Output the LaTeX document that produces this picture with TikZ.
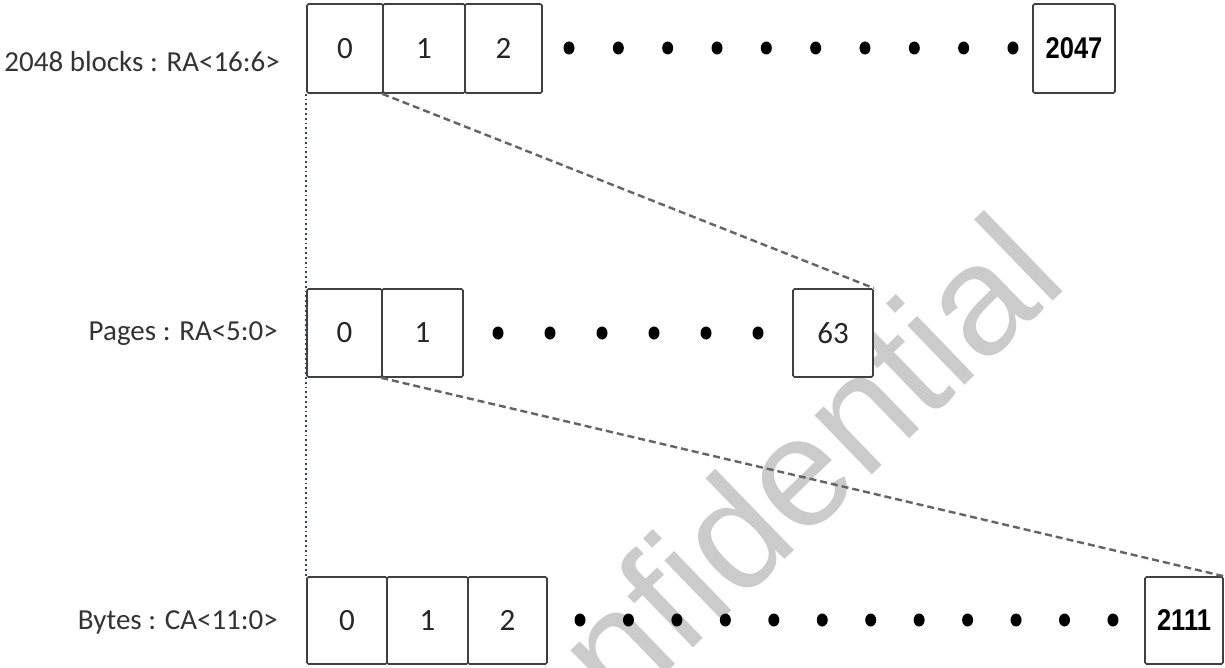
\documentclass[tikz,border=0pt]{standalone}
\usepackage{fontspec}
\setmainfont{Carlito}
\newfontfamily\nb[FakeStretch=0.85]{Liberation Sans}
\newfontfamily\wmfont{Liberation Sans}
\usetikzlibrary{calc}
\definecolor{boxline}{HTML}{404040}
\definecolor{labtext}{HTML}{333333}
\definecolor{dashcol}{HTML}{646464}
\definecolor{dotcol}{HTML}{34425E}
\definecolor{wmcol}{HTML}{CBCBCB}
\tikzset{
  cell/.style={draw=boxline, line width=1.6pt, rounded corners=1.5pt, fill=white, inner sep=0pt,
    font=\fontsize{31}{34}\selectfont, text=black!85},
  bigcell/.style={cell, font=\nb\bfseries\fontsize{30}{33}\selectfont, text=black},
  rowlabel/.style={anchor=east, inner sep=0pt, font=\fontsize{29}{33}\selectfont, text=labtext},
  bullet/.style={fill=black, draw=none},
  zoomline/.style={draw=dashcol, line width=2.4pt, dash pattern=on 7pt off 4pt},
  guide/.style={draw=dotcol, line width=1.8pt, dash pattern=on 1.8pt off 3pt}
}
\begin{document}
\begin{tikzpicture}[x=1pt, y=-1pt]
\useasboundingbox (0,0) rectangle (1225,668);
% watermark
\node[rotate=44, text=wmcol, font=\wmfont\fontsize{156}{160}\selectfont, inner sep=0pt] (wm) at (735,530) {Confidential};
% row labels
\node[rowlabel] (l1) at (280,62) {2048 blocks : RA<16:6>};
\node[rowlabel] (l2) at (278,334) {Pages : RA<5:0>};
\node[rowlabel] (l3) at (278,622) {Bytes : CA<11:0>};
% top row
\node[cell, minimum width=76pt, minimum height=89pt] (b0) at (345,48.5) {0};
\node[cell, minimum width=82pt, minimum height=89pt] (b1) at (424,48.5) {1};
\node[cell, minimum width=77pt, minimum height=89pt] (b2) at (503.5,48.5) {2};
\node[bigcell, minimum width=82pt, minimum height=89pt] (b2047) at (1074,48.5) {2047};
\foreach \i in {0,...,9} { \fill[bullet] ({569+\i*49.33},48) ellipse [x radius=5.5pt, y radius=6.5pt]; }
% pages row
\node[cell, minimum width=75pt, minimum height=88pt] (p0) at (344.5,333) {0};
\node[cell, minimum width=81pt, minimum height=88pt] (p1) at (422.5,333) {1};
\node[cell, minimum width=80pt, minimum height=88pt] (p63) at (833,333) {63};
\foreach \i in {0,...,5} { \fill[bullet] ({498+\i*52},333) ellipse [x radius=5.5pt, y radius=6.5pt]; }
% bytes row
\node[cell, minimum width=80pt, minimum height=87pt] (c0) at (347,620.5) {0};
\node[cell, minimum width=81pt, minimum height=87pt] (c1) at (427.5,620.5) {1};
\node[cell, minimum width=79pt, minimum height=87pt] (c2) at (507.5,620.5) {2};
\node[bigcell, minimum width=78pt, minimum height=87pt] (c2111) at (1184,620.5) {2111};
\foreach \i in {0,...,11} { \fill[bullet] ({580+\i*48.45},620) ellipse [x radius=5.5pt, y radius=6.5pt]; }
% connectors
\draw[guide] (b0.south west) -- (c0.north west);
\draw[zoomline] (b1.south west) -- (p63.north east);
\draw[zoomline] (p1.south west) -- (c2111.north east);
\end{tikzpicture}
\end{document}
